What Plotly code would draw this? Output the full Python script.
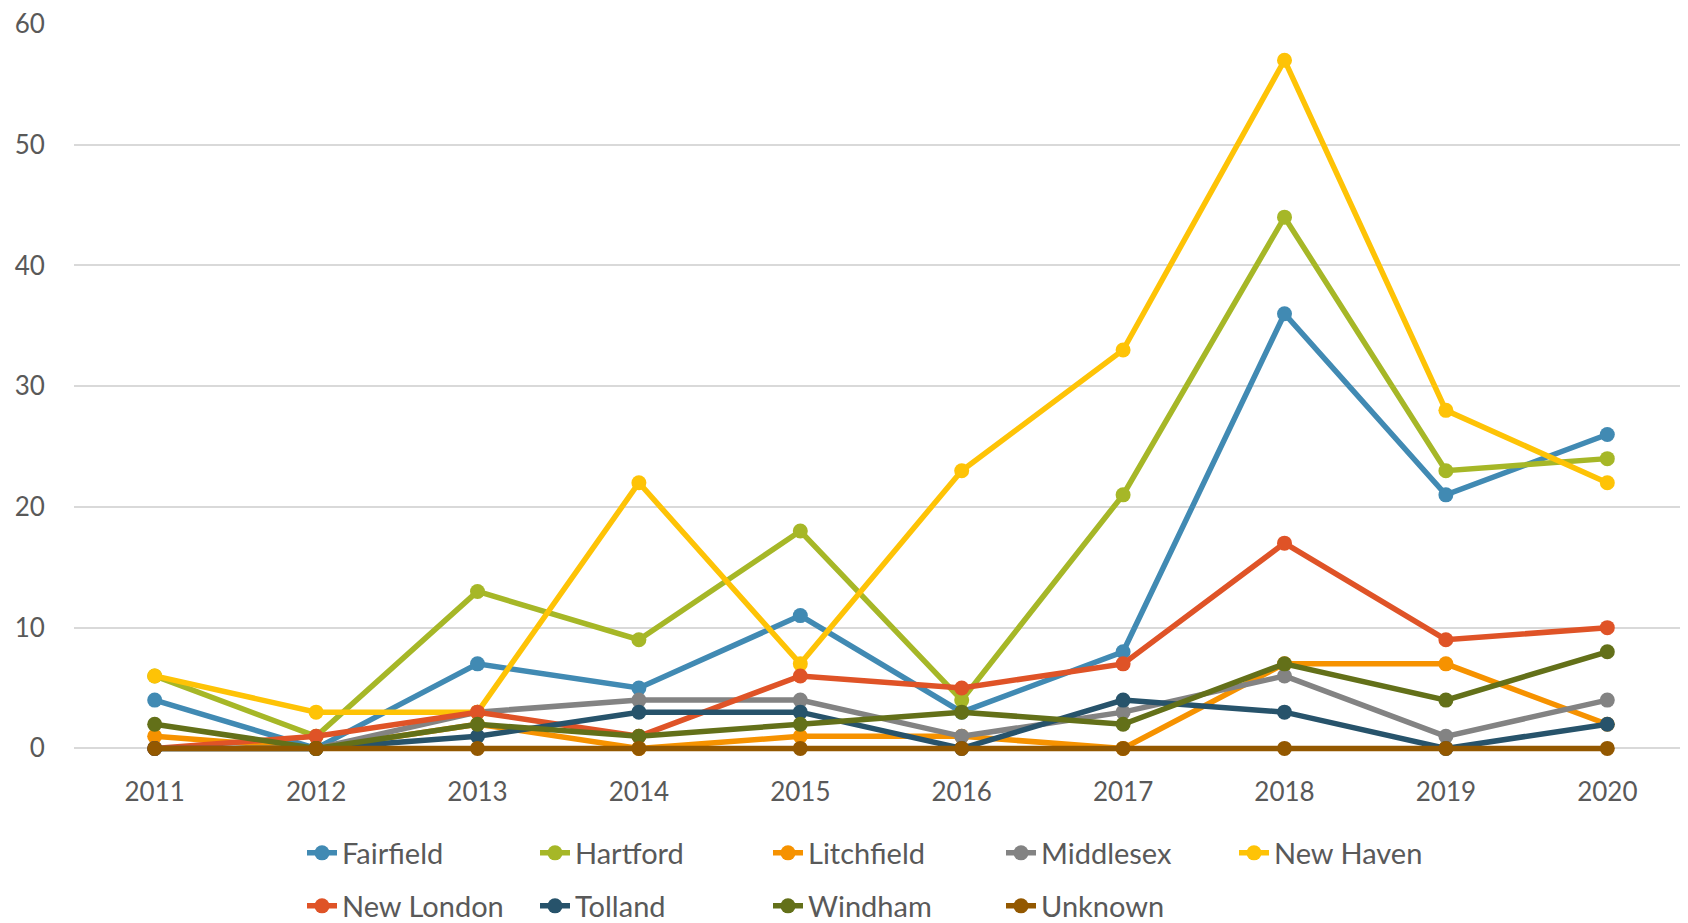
import plotly.graph_objects as go

years = ["2011", "2012", "2013", "2014", "2015", "2016", "2017", "2018", "2019", "2020"]

fairfield  = [4, 0, 7, 5, 11, 3, 8, 36, 21, 26]
hartford   = [6, 1, 13, 9, 18, 4, 21, 44, 23, 24]
litchfield = [1, 0, 2, 0, 1, 1, 0, 7, 7, 2]
middlesex  = [0, 0, 3, 4, 4, 1, 3, 6, 1, 4]
new_haven  = [6, 3, 3, 22, 7, 23, 33, 57, 28, 22]
new_london = [0, 1, 3, 1, 6, 5, 7, 17, 9, 10]
tolland    = [0, 0, 1, 3, 3, 0, 4, 3, 0, 2]
windham    = [2, 0, 2, 1, 2, 3, 2, 7, 4, 8]
unknown    = [0, 0, 0, 0, 0, 0, 0, 0, 0, 0]
y_ticks    = [0, 10, 20, 30, 40, 50, 60]

series = [
    ("Fairfield", fairfield, "#418AB3", "legend"),
    ("Hartford", hartford, "#A6B727", "legend"),
    ("Litchfield", litchfield, "#F69200", "legend"),
    ("Middlesex", middlesex, "#838383", "legend"),
    ("New Haven", new_haven, "#FEC306", "legend"),
    ("New London", new_london, "#DF5327", "legend2"),
    ("Tolland", tolland, "#27536B", "legend2"),
    ("Windham", windham, "#637019", "legend2"),
    ("Unknown", unknown, "#935800", "legend2"),
]

W, H = 1680, 915  # page body adds an 8px offset

fig = go.Figure()
for name, vals, color, lg in series:
    fig.add_trace(go.Scatter(
        x=years, y=vals, name=name, mode="lines+markers",
        line=dict(color=color, width=5.5),
        marker=dict(color=color, size=15),
        cliponaxis=False,
        legend=lg,
    ))

font_family = "Lato"
text_color = "#595959"

legend_common = dict(
    orientation="h",
    xref="container", yref="container",
    xanchor="left", yanchor="middle",
    entrywidth=188, entrywidthmode="pixels",
    font=dict(family=font_family, size=29, color=text_color),
    bgcolor="rgba(0,0,0,0)",
    itemclick=False, itemdoubleclick=False,
    traceorder="normal",
)

fig.update_layout(
    width=W, height=H,
    margin=dict(l=66, r=0, t=16, b=171),
    plot_bgcolor="white", paper_bgcolor="white",
    font=dict(family=font_family, color=text_color),
    showlegend=True,
    legend=dict(x=294 / W, y=1 - 845 / H, **legend_common),
    legend2=dict(x=294 / W, y=1 - 898 / H, **legend_common),
    xaxis=dict(
        type="category", range=[-0.5, 9.5], automargin=False,
        showgrid=False, showline=False, zeroline=False,
        ticks="outside", ticklen=17, tickcolor="rgba(0,0,0,0)",
        tickfont=dict(family=font_family, size=26, color=text_color),
    ),
    yaxis=dict(
        range=[-0.3, 60], tickvals=y_ticks, automargin=False,
        ticklabeloverflow="allow",
        showgrid=True, gridcolor="#D9D9D9", gridwidth=1.5,
        zeroline=False, showline=False,
        ticks="outside", ticklen=23, tickcolor="rgba(0,0,0,0)",
        tickfont=dict(family=font_family, size=26, color=text_color),
    ),
)

fig.write_html("out.html")
